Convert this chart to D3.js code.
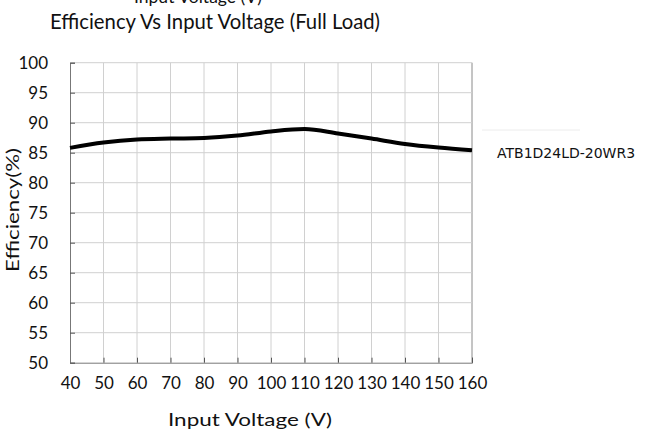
<!DOCTYPE html>
<html>
<head>
<meta charset="utf-8">
<script src="https://cdn.jsdelivr.net/npm/d3@7"></script>
<style>
  body { margin: 0; background: #fff; }
  text { font-family: Lato, "Open Sans", sans-serif; fill: #111; }
</style>
</head>
<body>
<div class="container"></div>
<script>
// efficiency curve

var voltage = [40, 50, 60, 70, 80, 90, 100, 110, 120, 130, 140, 150, 160];
var efficiency = [85.8, 86.7, 87.2, 87.35, 87.45, 87.85, 88.55, 88.95, 88.2, 87.35, 86.45, 85.85, 85.4];
var xTicks = [40, 50, 60, 70, 80, 90, 100, 110, 120, 130, 140, 150, 160];
var yTicks = [50, 55, 60, 65, 70, 75, 80, 85, 90, 95, 100];
var seriesName = 'ATB1D24LD-20WR3';

var chart = {
  width: 661,
  height: 433,
  left: 70,
  right: 472,
  top: 62.7,
  bottom: 362.7
};

var svg = d3.select('.container').append('svg')
            .attr('width', chart.width)
            .attr('height', chart.height);

var x = d3.scaleLinear().domain([40, 160]).range([chart.left, chart.right]);
var y = d3.scaleLinear().domain([50, 100]).range([chart.bottom, chart.top]);

// grid
svg.append('g').selectAll('line')
   .data(xTicks.slice(1))
   .enter().append('line')
   .attr('x1', function(d){ return x(d); })
   .attr('x2', function(d){ return x(d); })
   .attr('y1', chart.top)
   .attr('y2', chart.bottom)
   .attr('stroke', function(d){ return d === 160 ? '#8a8a8a' : '#d0d0d0'; })
   .attr('stroke-width', 1);

svg.append('g').selectAll('line')
   .data(yTicks.slice(1))
   .enter().append('line')
   .attr('x1', chart.left)
   .attr('x2', chart.right)
   .attr('y1', function(d){ return y(d); })
   .attr('y2', function(d){ return y(d); })
   .attr('stroke', '#d0d0d0')
   .attr('stroke-width', 1);

// axes, ticks pointing inwards
var xAxis = d3.axisBottom(x).tickValues(xTicks).tickSize(-5).tickPadding(14).tickFormat(d3.format('d'));
var yAxis = d3.axisLeft(y).tickValues(yTicks).tickSize(-5).tickPadding(22).tickFormat(d3.format('d'));

var gx = svg.append('g')
            .attr('transform', 'translate(0,' + chart.bottom + ')')
            .call(xAxis);
var gy = svg.append('g')
            .attr('transform', 'translate(' + chart.left + ',0)')
            .call(yAxis);

[gx, gy].forEach(function(g){
  g.select('.domain').attr('stroke', '#777');
  g.selectAll('.tick line').attr('stroke', '#555');
  g.selectAll('.tick text')
   .style('font-family', 'Lato, sans-serif')
   .style('font-size', '17px')
   .attr('fill', '#111');
});
gy.selectAll('.tick text').attr('dy', '0.35em');

// the curve
var line = d3.line()
             .x(function(d, i){ return x(voltage[i]); })
             .y(function(d){ return y(d); })
             .curve(d3.curveMonotoneX);

svg.append('path')
   .datum(efficiency)
   .attr('d', line)
   .attr('fill', 'none')
   .attr('stroke', '#000')
   .attr('stroke-width', 4)
   .attr('stroke-linecap', 'butt');

// titles
svg.append('text')
   .attr('x', 198).attr('y', 3)
   .attr('text-anchor', 'middle')
   .attr('textLength', 128)
   .attr('lengthAdjust', 'spacingAndGlyphs')
   .style('font-size', '17px')
   .text('Input Voltage (V)');

svg.append('text')
   .attr('x', 215).attr('y', 29)
   .attr('text-anchor', 'middle')
   .attr('textLength', 330)
   .attr('lengthAdjust', 'spacingAndGlyphs')
   .style('font-size', '22px')
   .text('Efficiency Vs Input Voltage (Full Load)');

svg.append('text')
   .attr('x', 250).attr('y', 426)
   .attr('text-anchor', 'middle')
   .attr('textLength', 164)
   .attr('lengthAdjust', 'spacingAndGlyphs')
   .style('font-size', '17px')
   .text('Input Voltage (V)');

svg.append('text')
   .attr('transform', 'translate(19,210) rotate(-90)')
   .attr('text-anchor', 'middle')
   .attr('textLength', 124)
   .attr('lengthAdjust', 'spacingAndGlyphs')
   .style('font-size', '17px')
   .text('Efficiency(%)');

// legend
svg.append('line')
   .attr('x1', 482).attr('x2', 580)
   .attr('y1', 130).attr('y2', 130)
   .attr('stroke', '#ececec')
   .attr('stroke-width', 1);

svg.append('text')
   .attr('x', 497).attr('y', 158)
   .style('font-family', '"DejaVu Sans", sans-serif')
   .style('font-size', '14px')
   .text(seriesName);
</script>
</body>
</html>
